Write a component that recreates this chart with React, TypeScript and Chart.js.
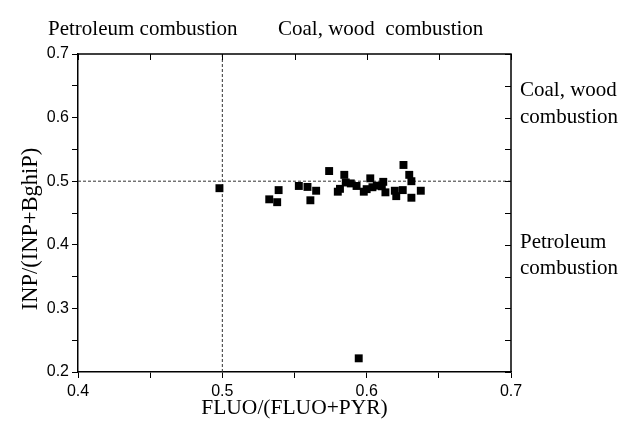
import { useEffect, useRef } from "react";
import { Chart, registerables } from "chart.js";

Chart.register(...registerables);

// FLUO/(FLUO+PYR) values of the samples
const fluoRatio = [
  0.498, 0.539, 0.5325, 0.538, 0.553, 0.559, 0.565, 0.561, 0.574, 0.5845,
  0.5855, 0.58, 0.5815, 0.589, 0.593, 0.598, 0.6025, 0.6, 0.604, 0.607,
  0.6115, 0.6105, 0.613, 0.6195, 0.6205, 0.625, 0.6255, 0.6295, 0.631, 0.631,
  0.6375, 0.5945,
];
// INP/(INP+BghiP) values of the samples
const inpRatio = [
  0.489, 0.486, 0.4715, 0.467, 0.4925, 0.491, 0.485, 0.47, 0.516, 0.51,
  0.498, 0.4835, 0.488, 0.4965, 0.4925, 0.4835, 0.5045, 0.4875, 0.4905, 0.493,
  0.499, 0.492, 0.4825, 0.485, 0.4765, 0.486, 0.5255, 0.51, 0.5, 0.474,
  0.485, 0.2215,
];

const xRange = [0.4, 0.7];
const yRange = [0.2, 0.7];
const tickStep = 0.05;
const dividerX = 0.5;
const dividerY = 0.5;

const xTitle = "FLUO/(FLUO+PYR)";
const yTitle = "INP/(INP+BghiP)";
const topLabels = ["Petroleum combustion", "Coal, wood  combustion"];
const rightLabels = [
  ["Coal, wood", "combustion"],
  ["Petroleum", "combustion"],
];

const SERIF = "'Liberation Serif', 'Times New Roman', serif";
const SANS = "'Liberation Sans', Arial, sans-serif";

const frame = {
  id: "frame",
  afterDraw(chart: any) {
    const { ctx, chartArea, scales } = chart;
    const { left, right, top, bottom } = chartArea;
    const x = scales.x;
    const y = scales.y;
    ctx.save();
    ctx.strokeStyle = "#000";
    ctx.lineWidth = 1.5;
    ctx.beginPath();
    ctx.moveTo(left, top);
    ctx.lineTo(right, top);
    ctx.lineTo(right, bottom);
    ctx.stroke();
    ctx.lineWidth = 1;
    ctx.beginPath();
    x.ticks.forEach((t: any) => {
      const px = Math.round(x.getPixelForValue(t.value)) + 0.5;
      ctx.moveTo(px, top);
      ctx.lineTo(px, top + 6);
    });
    y.ticks.forEach((t: any) => {
      const py = Math.round(y.getPixelForValue(t.value)) + 0.5;
      ctx.moveTo(right, py);
      ctx.lineTo(right - 6, py);
    });
    ctx.stroke();

    ctx.fillStyle = "#000";
    ctx.font = `21px ${SERIF}`;
    ctx.textAlign = "left";
    ctx.textBaseline = "alphabetic";
    ctx.fillText(topLabels[0], left - 30, top - 19);
    ctx.fillText(topLabels[1], left + 200, top - 19);

    ctx.textBaseline = "middle";
    ctx.fillText(rightLabels[0][0], right + 9, top + 36);
    ctx.fillText(rightLabels[0][1], right + 9, top + 63);
    ctx.fillText(rightLabels[1][0], right + 9, top + 188);
    ctx.fillText(rightLabels[1][1], right + 9, top + 214);

    ctx.font = `22.5px ${SERIF}`;
    ctx.translate(left - 47, (top + bottom) / 2 + 16);
    ctx.rotate(-Math.PI / 2);
    ctx.textAlign = "center";
    ctx.fillText(yTitle, 0, 0);
    ctx.restore();
  },
};

const majorLabel = (value: any) => {
  const v = Number(value);
  return Math.abs(v * 10 - Math.round(v * 10)) < 1e-6 ? v.toFixed(1) : "";
};

export default function App() {
  const ref = useRef<HTMLCanvasElement>(null);

  useEffect(() => {
    if (!ref.current) return;
    const points = fluoRatio.map((v, i) => ({ x: v, y: inpRatio[i] }));
    const chart = new Chart(ref.current, {
      type: "scatter",
      data: {
        datasets: [
          {
            label: "samples",
            data: points,
            pointStyle: "rect",
            pointRadius: 5.6,
            pointHoverRadius: 5.6,
            backgroundColor: "#000",
            borderColor: "#000",
            borderWidth: 0,
          },
          {
            type: "line",
            label: "vx",
            data: [
              { x: dividerX, y: yRange[0] },
              { x: dividerX, y: yRange[1] },
            ],
            borderColor: "#333",
            borderWidth: 1,
            borderDash: [3, 2],
            pointRadius: 0,
            showLine: true,
          },
          {
            type: "line",
            label: "hy",
            data: [
              { x: xRange[0], y: dividerY },
              { x: xRange[1], y: dividerY },
            ],
            borderColor: "#333",
            borderWidth: 1,
            borderDash: [3, 2],
            pointRadius: 0,
            showLine: true,
          },
        ],
      },
      options: {
        responsive: false,
        animation: false,
        layout: { padding: { left: 0, top: 54, right: 123, bottom: 0 } },
        plugins: {
          legend: { display: false },
          tooltip: { enabled: false },
        },
        scales: {
          x: {
            type: "linear",
            min: xRange[0],
            max: xRange[1],
            afterFit: (s: any) => {
              s.height = 49;
            },
            ticks: {
              stepSize: tickStep,
              autoSkip: false,
              maxRotation: 0,
              callback: majorLabel,
              color: "#000",
              font: { family: SANS, size: 16 },
              padding: 4,
            },
            grid: {
              drawOnChartArea: false,
              drawTicks: true,
              tickLength: 6,
              color: "#000",
            },
            border: { color: "#000", width: 1.5 },
            title: {
              display: true,
              text: xTitle,
              color: "#000",
              font: { family: SERIF, size: 21.5 },
              padding: { top: 0, bottom: 0 },
            },
          },
          y: {
            type: "linear",
            min: yRange[0],
            max: yRange[1],
            afterFit: (s: any) => {
              s.width = 78;
            },
            ticks: {
              stepSize: tickStep,
              autoSkip: false,
              callback: majorLabel,
              color: "#000",
              font: { family: SANS, size: 16 },
              padding: 3,
            },
            grid: {
              drawOnChartArea: false,
              drawTicks: true,
              tickLength: 6,
              color: "#000",
            },
            border: { color: "#000", width: 1.5 },
          },
        },
      },
      plugins: [frame],
    });
    return () => chart.destroy();
  }, []);

  return (
    <div style={{ position: "absolute", left: 0, top: 0, width: 634, height: 421, background: "#fff" }}>
      <canvas ref={ref} width={634} height={421} />
    </div>
  );
}
